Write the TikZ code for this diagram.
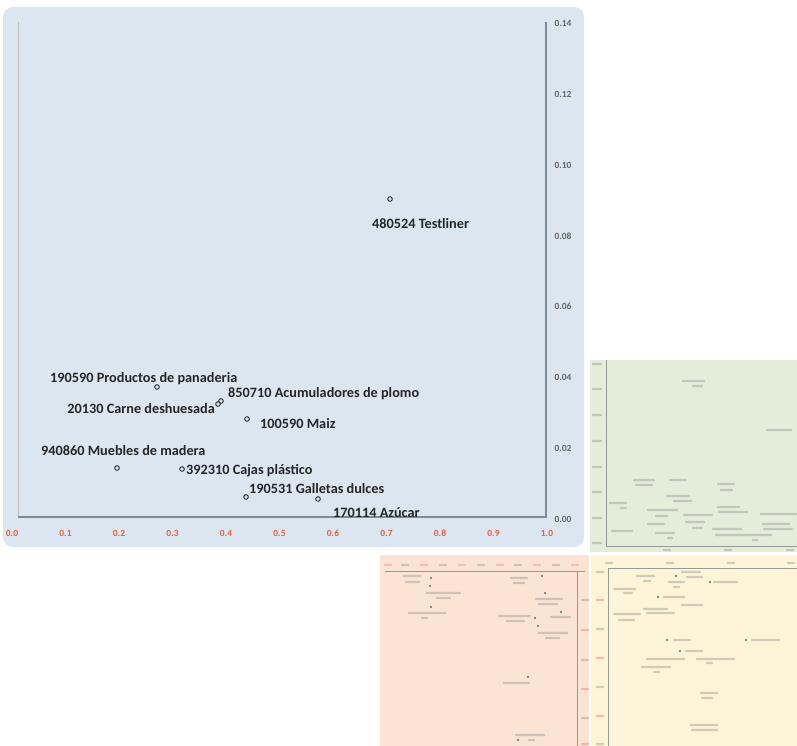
\documentclass[tikz,border=0pt]{standalone}
\usepackage{fontspec}
\setmainfont{Carlito}
\definecolor{panelblue}{HTML}{DCE6F1}
\definecolor{panelgreen}{HTML}{E3EDD9}
\definecolor{panelpink}{HTML}{FCE4D5}
\definecolor{panelyellow}{HTML}{FEF4D7}
\definecolor{axisgray}{HTML}{7E8B96}
\definecolor{tickred}{HTML}{E8623F}
% tiny unreadable captions of the thumbnails, drawn as soft strokes
\newcommand\smtxt[4][black!40]{\fill[#1,opacity=0.45,rounded corners=0.8] (#2,#4-1.2) rectangle (#3,#4+1.2);}
\newcommand\smdot[2]{\fill[black!60] (#1,#2) circle (1.2);}
\begin{document}
\begin{tikzpicture}[x=1bp,y=-1bp,
  datapt/.style={circle,draw=black!85,line width=0.9bp,fill=panelblue,inner sep=0pt,minimum size=4.6bp},
  lbl/.style={font=\fontsize{14.3}{16}\selectfont\bfseries,text=black!85,inner sep=0pt},
  xtick/.style={font=\fontsize{9.5}{11}\selectfont\bfseries,text=tickred,inner sep=0pt},
  ytick/.style={font=\fontsize{9.5}{11}\selectfont\bfseries,text=black!60,inner sep=0pt},
  axisline/.style={draw=axisgray,line width=1.8bp},
  smallaxis/.style={draw=black!40,line width=0.8bp}]
\useasboundingbox (0,0) rectangle (797,746);
\fill[white] (0,0) rectangle (797,746);

% ---------- main scatter panel ----------
\fill[panelblue] (3,7) [rounded corners=10] rectangle (584,547);
\draw[draw=black!25,line width=0.8bp] (18,22) -- (18,517);
\draw[axisline] (18,517) -- (546,517) -- (546,22);

% horizontal scale
\foreach \v [count=\i from 0] in {0.0,0.1,0.2,0.3,0.4,0.5,0.6,0.7,0.8,0.9,1.0}
  {\node[xtick] (xt\i) at (12+53.5*\i,533) {\v};}
% vertical scale
\foreach \v [count=\i from 0] in {0.00,0.02,0.04,0.06,0.08,0.10,0.12,0.14}
  {\node[ytick] (yt\i) at (563,519-70.8*\i) {\v};}

% data points and their labels
\node[datapt] (p1) at (390,199) {};
\node[lbl,anchor=base west] (l1) at (372,228) {480524 Testliner};
\node[datapt] (p2) at (157,387) {};
\node[lbl,anchor=base west] (l2) at (50,382) {190590 Productos de panaderia};
\node[datapt] (p3) at (221,401) {};
\node[lbl,anchor=base west] (l3) at (228,397) {850710 Acumuladores de plomo};
\node[datapt] (p4) at (218,404) {};
\node[lbl,anchor=base east] (l4) at (215,413) {20130 Carne deshuesada};
\node[datapt] (p5) at (247,419) {};
\node[lbl,anchor=base west] (l5) at (260,428) {100590 Maiz};
\node[datapt] (p6) at (117,468) {};
\node[lbl,anchor=base west] (l6) at (41,455) {940860 Muebles de madera};
\node[datapt] (p7) at (182,469) {};
\node[lbl,anchor=base west] (l7) at (186,474) {392310 Cajas plástico};
\node[datapt] (p8) at (246,497) {};
\node[lbl,anchor=base west] (l8) at (249,493) {190531 Galletas dulces};
\node[datapt] (p9) at (318,499) {};
\node[lbl,anchor=base west] (l9) at (333,517) {170114 Azúcar};

% ---------- green thumbnail ----------
\fill[panelgreen] (590,360) rectangle (797,552);
\draw[smallaxis] (606,360) -- (606,546) -- (797,546);
\foreach \y in {364,389,415,441,467,492,518,543} {\smtxt{592}{602}{\y}}
\foreach \x in {667,728,790} {\smtxt{\x-4}{\x+4}{550}}
\smtxt{682}{705}{381} \smtxt{692}{703}{386}
\smtxt{766}{792}{430}
\smtxt{633}{655}{480} \smtxt{635}{653}{485}
\smtxt{669}{687}{480}
\smtxt{717}{735}{484} \smtxt{720}{733}{490}
\smtxt{666}{690}{496} \smtxt{673}{692}{501}
\smtxt{609}{627}{503} \smtxt{620}{627}{508}
\smtxt{647}{678}{510} \smtxt{655}{668}{516}
\smtxt{717}{740}{507} \smtxt{718}{748}{512}
\smtxt{760}{797}{514}
\smtxt{683}{713}{515}
\smtxt{685}{705}{522} \smtxt{692}{703}{528}
\smtxt{647}{665}{524}
\smtxt{762}{790}{524} \smtxt{763}{793}{529}
\smtxt{611}{633}{531}
\smtxt{655}{675}{533} \smtxt{667}{673}{538}
\smtxt{712}{742}{529}
\smtxt{715}{772}{535}
\smtxt{752}{758}{540}

% ---------- pink thumbnail ----------
\fill[panelpink] (380,555) rectangle (589,746);
\draw[smallaxis] (385,571) -- (585,571);
\draw[smallaxis] (577,571) -- (577,746);
\foreach \x [count=\i] in {388,405,424,443,462,481,500,518,537,556,575}
  {\ifodd\i \smtxt[tickred!70]{\x-4}{\x+4}{565}\else \smtxt{\x-4}{\x+4}{565}\fi}
\foreach \y [count=\i] in {600,630,660,689,718,744}
  {\ifodd\i \smtxt{581}{589}{\y}\else \smtxt[tickred!80]{581}{589}{\y}\fi}
\smtxt{403}{421}{576} \smtxt{405}{420}{582} \smdot{431}{578}
\smdot{430}{586}
\smtxt{426}{461}{593} \smtxt{436}{451}{598}
\smdot{431}{607}
\smtxt{408}{446}{613} \smtxt{421}{428}{618}
\smtxt{510}{528}{578} \smtxt{513}{525}{583} \smdot{542}{576}
\smdot{545}{593}
\smtxt{535}{563}{599} \smtxt{538}{558}{604}
\smtxt{498}{531}{616} \smtxt{506}{525}{621} \smdot{535}{618}
\smdot{561}{612} \smtxt{550}{571}{617}
\smdot{538}{626}
\smtxt{538}{568}{633} \smtxt{545}{560}{638}
\smdot{528}{677} \smtxt{503}{530}{683}
\smtxt{515}{545}{735} \smdot{518}{740} \smtxt{528}{535}{740}

% ---------- yellow thumbnail ----------
\fill[panelyellow] (591,555) rectangle (797,746);
\draw[smallaxis] (608,568) -- (797,568);
\draw[smallaxis] (608,568) -- (608,746);
\foreach \x in {609,670,731,791} {\smtxt{\x-4}{\x+4}{563}}
\foreach \y [count=\i] in {572,600,629,658,687,716,744}
  {\ifodd\i \smtxt{596}{604}{\y}\else \smtxt[tickred!80]{596}{604}{\y}\fi}
\smtxt{636}{655}{576} \smtxt{643}{651}{581}
\smtxt{681}{701}{572} \smtxt{686}{703}{577} \smdot{676}{576}
\smtxt{668}{685}{582} \smtxt{673}{680}{587}
\smdot{710}{582} \smtxt{713}{738}{582}
\smtxt{613}{636}{589} \smtxt{623}{633}{593}
\smdot{658}{597} \smtxt{663}{685}{597}
\smtxt{681}{703}{605}
\smtxt{643}{668}{609} \smtxt{646}{675}{613}
\smtxt{613}{641}{614} \smtxt{618}{635}{620}
\smdot{667}{640} \smtxt{673}{691}{640}
\smdot{746}{640} \smtxt{751}{780}{640}
\smdot{680}{651} \smtxt{685}{703}{651}
\smtxt{646}{685}{659}
\smtxt{696}{735}{659} \smtxt{706}{713}{663}
\smtxt{641}{671}{667} \smtxt{653}{660}{672}
\smtxt{700}{718}{693} \smtxt{701}{713}{698}
\smtxt{690}{718}{725} \smtxt{691}{718}{730}
\end{tikzpicture}
\end{document}
